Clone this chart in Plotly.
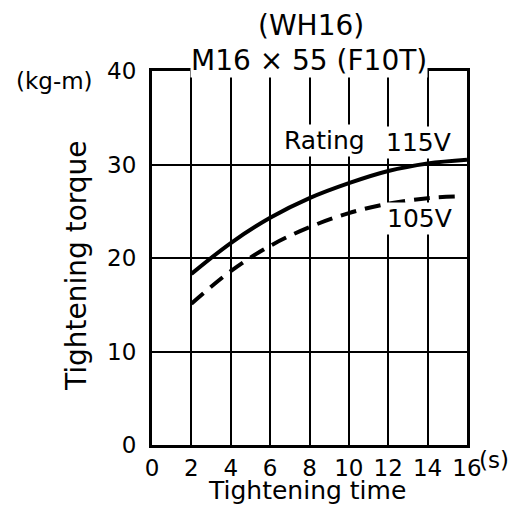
import plotly.graph_objects as go

# Data
time_s = [2, 4, 6, 8, 10, 12, 14, 16]
torque_115v = [18.3, 21.6, 24.3, 26.4, 28.0, 29.3, 30.1, 30.5]
time_105 = [2, 4, 6, 8, 10, 12, 14, 15.8]
torque_105v = [15.1, 18.6, 21.3, 23.3, 24.8, 25.8, 26.4, 26.6]

x_ticks = [0, 2, 4, 6, 8, 10, 12, 14, 16]
y_ticks = [0, 10, 20, 30, 40]

FONT = "DejaVu Sans, Liberation Sans, sans-serif"

# plot-area geometry (pixels) used to place free text
L, R, T, B = 152, 467, 71, 445
W, H = R - L, B - T


def px(xp, yp):
    return (xp - L) / W, (B - yp) / H


fig = go.Figure()
fig.add_trace(go.Scatter(x=time_s, y=torque_115v, mode="lines",
                         line=dict(color="black", width=4, shape="spline"),
                         showlegend=False, hoverinfo="skip"))
fig.add_trace(go.Scatter(x=time_105, y=torque_105v, mode="lines",
                         line=dict(color="black", width=4, shape="spline", dash="16px,9px"),
                         showlegend=False, hoverinfo="skip"))

fig.update_layout(
    width=526, height=506,
    margin=dict(l=L, r=526 - R, t=T, b=506 - B),
    paper_bgcolor="white", plot_bgcolor="white",
    font=dict(family=FONT, color="black", size=23),
)
fig.update_xaxes(range=[0, 16], tickvals=x_ticks, ticktext=[str(v) for v in x_ticks],
                 showgrid=True, gridcolor="black", gridwidth=1.5,
                 showline=True, linecolor="black", linewidth=3, mirror=True,
                 zeroline=False, ticks="", ticklabelstandoff=0,
                 tickfont=dict(size=23))
fig.update_yaxes(range=[0, 40], tickvals=y_ticks, ticktext=[str(v) for v in y_ticks],
                 showgrid=True, gridcolor="black", gridwidth=1.5,
                 showline=True, linecolor="black", linewidth=3, mirror=True,
                 zeroline=False, ticks="", ticklabelstandoff=8,
                 tickfont=dict(size=23))


def note(text, xp, yp, size, **kw):
    x, y = px(xp, yp)
    fig.add_annotation(text=text, xref="paper", yref="paper", x=x, y=y,
                       showarrow=False, font=dict(size=size),
                       xanchor="center", yanchor="middle", **kw)


note("(WH16)", 311, 26, 28)
note("M16 \u00d7 55 (F10T)", 309, 61, 28, bgcolor="white", borderpad=0)
note("(kg-m)", 54, 81, 23)
note("(s)", 494, 460, 23)
note("Tightening torque", 76, 266, 28, textangle=-90)
note("Tightening time", 307, 490, 25, borderpad=0)
note("Rating", 324, 140, 25, bgcolor="white")
note("115V", 418, 142, 25, bgcolor="white")
note("105V", 419, 218, 25, bgcolor="white")

fig.write_html("out.html")
